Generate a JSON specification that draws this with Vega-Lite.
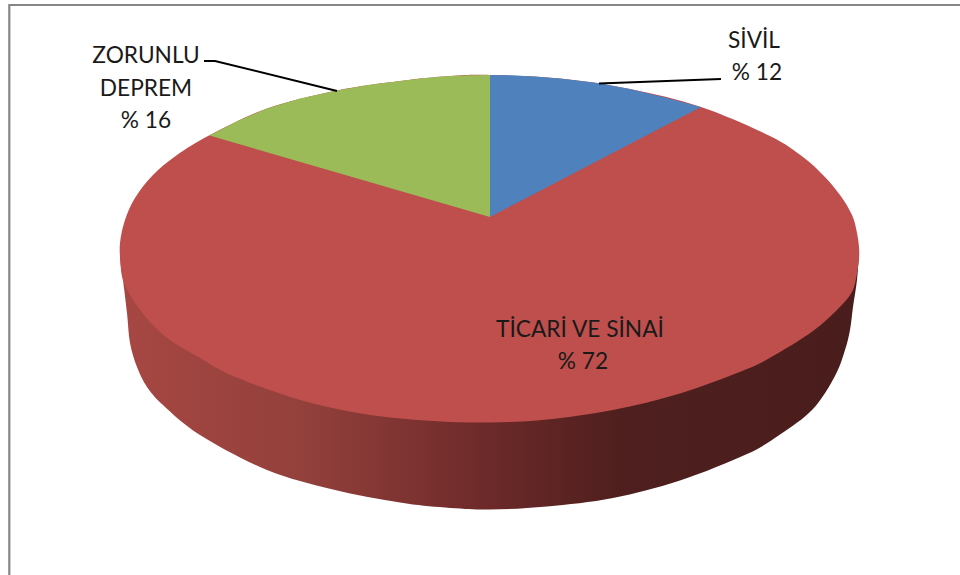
{
"$schema":"https://vega.github.io/schema/vega-lite/v6.json",
"width":960,"height":575,"padding":0,"autosize":"none","background":"#ffffff",
"config":{"view":{"stroke":null}},
"datasets":{
"wall":[
{"i":1,"x":12.0,"y":24.3},{"i":2,"x":12.05,"y":26.3},{"i":3,"x":12.3,"y":28.0},{"i":4,"x":12.7,"y":31.3},{"i":5,"x":13.0,"y":34.3},{"i":6,"x":13.7,"y":36.7},{"i":7,"x":14.7,"y":38.7},{"i":8,"x":16.3,"y":40.5},{"i":9,"x":20.0,"y":43.5},{"i":10,"x":26.7,"y":47.0},{"i":11,"x":33.3,"y":48.95},{"i":12,"x":40.0,"y":50.25},{"i":13,"x":44.5,"y":50.75},{"i":14,"x":49.0,"y":50.95},{"i":15,"x":54.7,"y":50.65},{"i":16,"x":61.3,"y":49.8},{"i":17,"x":68.0,"y":48.05},{"i":18,"x":74.7,"y":45.4},{"i":19,"x":78.0,"y":43.45},{"i":20,"x":81.3,"y":40.9},{"i":21,"x":83.5,"y":37.6},{"i":22,"x":84.5,"y":35.0},{"i":23,"x":85.0,"y":33.0},{"i":24,"x":85.3,"y":30.7},{"i":25,"x":85.7,"y":28.0},{"i":26,"x":85.9,"y":25.3}],
"face":[
{"i":1,"x":49.0,"y":7.5},{"i":2,"x":56.0,"y":7.85},{"i":3,"x":63.0,"y":8.9},{"i":4,"x":70.1,"y":10.7},{"i":5,"x":77.0,"y":13.6},{"i":6,"x":80.3,"y":15.7},{"i":7,"x":82.3,"y":17.5},{"i":8,"x":84.0,"y":19.5},{"i":9,"x":85.2,"y":21.5},{"i":10,"x":85.7,"y":23.3},{"i":11,"x":85.93,"y":25.3},{"i":12,"x":85.7,"y":27.3},{"i":13,"x":85.2,"y":29.2},{"i":14,"x":83.7,"y":31.0},{"i":15,"x":81.3,"y":33.1},{"i":16,"x":78.0,"y":35.2},{"i":17,"x":74.7,"y":36.9},{"i":18,"x":68.0,"y":39.35},{"i":19,"x":61.3,"y":41.0},{"i":20,"x":54.7,"y":41.95},{"i":21,"x":49.0,"y":42.25},{"i":22,"x":43.3,"y":42.1},{"i":23,"x":36.7,"y":41.45},{"i":24,"x":30.0,"y":40.0},{"i":25,"x":23.3,"y":37.6},{"i":26,"x":20.0,"y":35.8},{"i":27,"x":17.0,"y":34.0},{"i":28,"x":15.0,"y":32.2},{"i":29,"x":13.3,"y":30.0},{"i":30,"x":12.3,"y":28.0},{"i":31,"x":12.05,"y":26.3},{"i":32,"x":12.0,"y":24.3},{"i":33,"x":12.5,"y":22.0},{"i":34,"x":13.5,"y":19.8},{"i":35,"x":15.3,"y":17.5},{"i":36,"x":17.7,"y":15.5},{"i":37,"x":21.0,"y":13.5},{"i":38,"x":26.7,"y":10.85},{"i":39,"x":33.7,"y":9.05},{"i":40,"x":40.0,"y":8.1},{"i":41,"x":45.0,"y":7.6}],
"slices":[
{"slice":"ZORUNLU DEPREM","i":1,"x":49.0,"y":21.7},{"slice":"ZORUNLU DEPREM","i":2,"x":20.95,"y":13.55},{"slice":"ZORUNLU DEPREM","i":3,"x":23.8,"y":12.07},{"slice":"ZORUNLU DEPREM","i":4,"x":26.7,"y":10.85},{"slice":"ZORUNLU DEPREM","i":5,"x":30.0,"y":9.85},{"slice":"ZORUNLU DEPREM","i":6,"x":33.7,"y":9.05},{"slice":"ZORUNLU DEPREM","i":7,"x":36.8,"y":8.5},{"slice":"ZORUNLU DEPREM","i":8,"x":40.0,"y":8.1},{"slice":"ZORUNLU DEPREM","i":9,"x":42.5,"y":7.8},{"slice":"ZORUNLU DEPREM","i":10,"x":45.0,"y":7.6},{"slice":"ZORUNLU DEPREM","i":11,"x":47.0,"y":7.52},{"slice":"ZORUNLU DEPREM","i":12,"x":49.0,"y":7.5},
{"slice":"SİVİL","i":1,"x":49.0,"y":21.7},{"slice":"SİVİL","i":2,"x":49.0,"y":7.5},{"slice":"SİVİL","i":3,"x":51.0,"y":7.52},{"slice":"SİVİL","i":4,"x":53.5,"y":7.65},{"slice":"SİVİL","i":5,"x":56.0,"y":7.85},{"slice":"SİVİL","i":6,"x":59.8,"y":8.3},{"slice":"SİVİL","i":7,"x":63.0,"y":8.9},{"slice":"SİVİL","i":8,"x":66.5,"y":9.75},{"slice":"SİVİL","i":9,"x":70.1,"y":10.7}],
"lines":[
{"k":"frame","i":1,"x":0.93,"y":57.5},{"k":"frame","i":2,"x":0.93,"y":0.5},{"k":"frame","i":3,"x":96,"y":0.5}],
"leaders":[
{"k":"zorunlu","i":1,"x":20.4,"y":6.1},{"k":"zorunlu","i":2,"x":21.5,"y":6.1},{"k":"zorunlu","i":3,"x":33.7,"y":9.1},
{"k":"sivil","i":1,"x":59.9,"y":8.35},{"k":"sivil","i":2,"x":72.1,"y":7.9}],
"labels":[
{"t":"ZORUNLU","x":14.6,"y":6.3},{"t":"DEPREM","x":14.6,"y":9.55},{"t":"% 16","x":14.6,"y":12.8},
{"t":"SİVİL","x":75.4,"y":4.8},{"t":"% 12","x":75.7,"y":8.0},
{"t":"TİCARİ VE SİNAİ","x":58.0,"y":33.7},{"t":"% 72","x":58.3,"y":36.9}]
},
"encoding":{
"x":{"field":"x","type":"quantitative","scale":{"domain":[0,96]},"axis":null},
"y":{"field":"y","type":"quantitative","scale":{"domain":[57.5,0]},"axis":null}
},
"layer":[
{"data":{"name":"lines"},"mark":{"type":"line","stroke":"#868686","strokeWidth":2.2,"clip":false},"encoding":{"order":{"field":"i","type":"quantitative"},"detail":{"field":"k"}}},
{"data":{"name":"wall"},"mark":{"type":"line","interpolate":"cardinal","filled":true,"stroke":null,"fill":{"gradient":"linear","x1":0,"x2":1,"y1":0,"y2":0,"stops":[{"offset":0,"color":"#A74743"},{"offset":0.25,"color":"#93403B"},{"offset":0.49,"color":"#6E2A2A"},{"offset":0.68,"color":"#4E1F1E"},{"offset":1,"color":"#4A1D1D"}]}},"encoding":{"order":{"field":"i","type":"quantitative"}}},
{"data":{"name":"face"},"mark":{"type":"line","interpolate":"cardinal-closed","filled":true,"stroke":null,"fill":"#BE4F4C"},"encoding":{"order":{"field":"i","type":"quantitative"}}},
{"data":{"name":"slices"},"mark":{"type":"line","filled":true,"strokeWidth":0},"encoding":{"order":{"field":"i","type":"quantitative"},"color":{"field":"slice","type":"nominal","legend":null,"scale":{"domain":["SİVİL","ZORUNLU DEPREM"],"range":["#4F81BD","#9BBB59"]}}}},
{"data":{"name":"leaders"},"mark":{"type":"line","stroke":"#000000","strokeWidth":2},"encoding":{"order":{"field":"i","type":"quantitative"},"detail":{"field":"k"}}},
{"data":{"name":"labels"},"mark":{"type":"text","font":"Lato","fontSize":22.7,"align":"center","baseline":"alphabetic","color":"#1a1a1a"},"encoding":{"text":{"field":"t","type":"nominal"}}}
]
}
